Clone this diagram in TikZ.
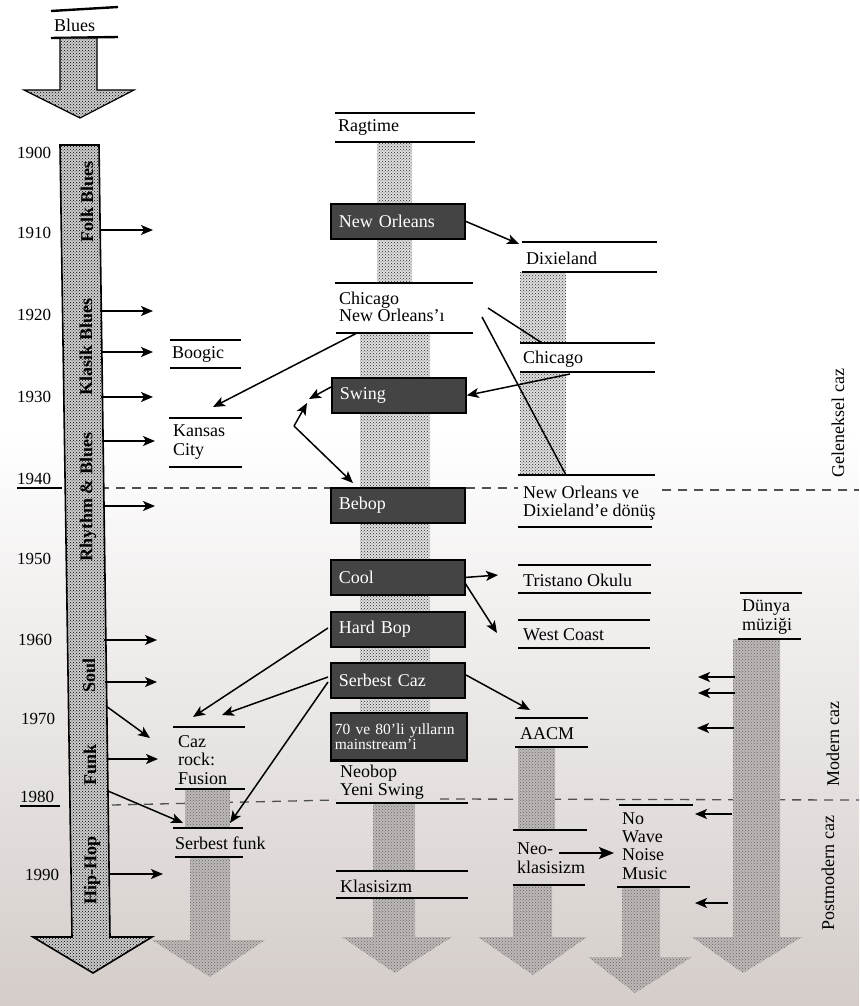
\documentclass[tikz,border=0pt]{standalone}
\usepackage{fontspec}
\setmainfont{Liberation Serif}
\usetikzlibrary{arrows.meta,patterns}
\definecolor{paper}{RGB}{212,205,202}
\definecolor{boxgray}{RGB}{68,68,68}
\definecolor{dashcol}{RGB}{80,80,80}
\definecolor{lowfill}{RGB}{190,185,183}
\begin{document}
\begin{tikzpicture}[x=1pt,y=-1pt,
  txt/.style={inner sep=0pt, anchor=west, align=left, font=\fontsize{18}{18.5}\selectfont},
  year/.style={inner sep=0pt, anchor=west, font=\fontsize{17}{17}\selectfont},
  rotb/.style={inner sep=0pt, rotate=90, font=\bfseries\fontsize{18}{18}\selectfont},
  rotr/.style={inner sep=0pt, rotate=90, font=\fontsize{18}{18}\selectfont},
  hline/.style={line width=2.4pt},
  thinline/.style={line width=1.2pt},
  sep/.style={line width=1.3pt, dashcol, dash pattern=on 9pt off 7pt},
  darkbox/.style={draw=black, line width=1.8pt, fill=boxgray, text=white, anchor=north west,
    inner xsep=8pt, inner ysep=0pt, align=left, text width=118pt, minimum height=35pt,
    font=\fontsize{18}{18}\selectfont},
  arr/.style={line width=1.5pt, -{Stealth[length=12pt,width=10pt,inset=3pt]}},
  bigarr/.style={line width=1.8pt, -{Stealth[length=15pt,width=12pt,inset=3pt]}},
  conn/.style={line width=1.5pt},
  mainbar/.style={draw=black, line width=1.6pt, preaction={fill=gray!40}, pattern=crosshatch dots, pattern color=black},
  dotbar/.style={preaction={fill=gray!25}, pattern=crosshatch dots, pattern color=black!85},
  lowbar/.style={preaction={fill=lowfill}, pattern=crosshatch dots, pattern color=black!60}
]
\useasboundingbox (0,0) rectangle (859,1006);
% background paper
\fill[white] (0,0) rectangle (859,1006);
\shade[top color=white, bottom color=paper] (0,430) rectangle (859,1006);

% ---------- separators ----------
\draw[thinline] (17,488) -- (62,488);
\draw[sep] (100,488) -- (330,488);
\draw[sep] (466,488) -- (518,488);
\draw[sep] (662,490) -- (859,490);
\draw[thinline] (20,806) -- (60,806);
\draw[sep] (112,805) -- (336,800);
\draw[sep] (440,799) -- (859,800);

% ---------- Blues ----------
\draw[hline] (51,11) -- (118,7);
\draw[hline] (51,38) -- (118,37);
\node[txt] (blues) at (54,25) {Blues};
\draw[mainbar, line width=1.2pt] (60,38) -- (97,38) -- (97,90) -- (134,90) -- (80,118) -- (24,90) -- (60,90) -- cycle;

% ---------- main timeline ----------
\draw[mainbar] (60,145) -- (99,145) -- (110,937) -- (152,937) -- (93,973) -- (33,937) -- (72,937) -- cycle;
\node[rotb] (folk) at (87,202) {Folk Blues};
\node[rotb] (klasik) at (86,347) {Klasik Blues};
\node[rotb] (rnb) at (88,497) {Rhythm \& Blues};
\node[rotb] (soul) at (89,675) {Soul};
\node[rotb] (funk) at (90,765) {Funk};
\node[rotb] (hiphop) at (92,870) {Hip-Hop};

\node[year] (y1900) at (17,153) {1900};
\node[year] (y1910) at (17,233) {1910};
\node[year] (y1920) at (17,315) {1920};
\node[year] (y1930) at (17,397) {1930};
\node[year] (y1940) at (17,479) {1940};
\node[year] (y1950) at (17,559) {1950};
\node[year] (y1960) at (18,640) {1960};
\node[year] (y1970) at (21,719) {1970};
\node[year] (y1980) at (20,797) {1980};
\node[year] (y1990) at (25,875) {1990};

% ---------- column 2 ----------
\fill[lowbar] (185,789) rectangle (230,828);
\fill[lowbar] (190,857) -- (230,857) -- (230,940) -- (265,940) -- (210,977) -- (152,940) -- (190,940) -- cycle;
\draw[hline] (170,340) -- (241,340);
\draw[hline] (170,368) -- (241,368);
\node[txt] (boogic) at (172,354) {Boogic};
\draw[hline] (169,418) -- (242,418);
\draw[hline] (169,467) -- (242,467);
\node[txt] (kansas) at (173,442) {Kansas\\City};
\draw[hline] (173,727) -- (245,727);
\draw[hline] (175,789) -- (245,789);
\node[txt] (cazrock) at (178,760) {Caz\\rock:\\Fusion};
\draw[hline] (173,828) -- (243,828);
\draw[hline] (175,857) -- (243,857);
\node[txt] (sfunk) at (175,843) {Serbest funk};

% ---------- middle column ----------
\fill[dotbar] (377,142) rectangle (412,283);
\fill[dotbar] (360,333) rectangle (430,712);
\fill[lowbar] (373,803) rectangle (415,871);
\fill[lowbar] (373,898) -- (415,898) -- (415,937) -- (452,937) -- (395,973) -- (342,937) -- (373,937) -- cycle;
\draw[hline] (335,113) -- (475,113);
\draw[hline] (335,142) -- (475,142);
\node[txt] (ragtime) at (338,127) {Ragtime};
\node[darkbox] (neworleans) at (330,203) {New Orleans};
\draw[hline] (335,283) -- (473,283);
\draw[hline] (336,333) -- (473,333);
\node[txt, font=\fontsize{18}{17.5}\selectfont] (chino) at (339,307) {Chicago\\New Orleans’ı};
\node[darkbox] (swing) at (331,377) {Swing};
\node[darkbox] (bebop) at (330,487) {Bebop};
\node[darkbox] (cool) at (330,559) {Cool};
\node[darkbox] (hardbop) at (330,611) {Hard Bop};
\node[darkbox] (serbest) at (330,662) {Serbest Caz};
\node[darkbox, minimum height=48pt, text width=128pt, inner xsep=4pt, font=\fontsize{15.5}{14.5}\selectfont] (mainstream) at (330,712) {\mbox{70 ve 80’li yılların}\\\mbox{mainstream’i}};
\draw[hline] (330,760) -- (468,760);
\node[txt] (neobop) at (340,782) {Neobop\\Yeni Swing};
\draw[hline] (336,803) -- (468,803);
\draw[hline] (336,871) -- (468,871);
\draw[hline] (336,898) -- (468,898);
\node[txt] (klasisizm) at (340,886) {Klasisizm};

% ---------- column 4 ----------
\fill[dotbar] (520,272) rectangle (566,343);
\fill[dotbar] (520,372) rectangle (566,475);
\fill[lowbar] (518,747) rectangle (555,830);
\fill[lowbar] (513,885) -- (552,885) -- (552,937) -- (587,937) -- (533,975) -- (478,937) -- (513,937) -- cycle;
\draw[hline] (522,242) -- (657,242);
\draw[hline] (522,272) -- (657,272);
\node[txt] (dixieland) at (526,258) {Dixieland};
\draw[hline] (520,343) -- (655,343);
\draw[hline] (520,372) -- (655,372);
\node[txt] (chicago) at (523,359) {Chicago};
\draw[hline] (518,475) -- (655,475);
\draw[hline] (518,527) -- (652,527);
\node[txt] (donus) at (523,503) {New Orleans ve\\Dixieland’e dönüş};
\draw[hline] (518,565) -- (651,565);
\draw[hline] (518,593) -- (651,593);
\node[txt] (tristano) at (523,580) {Tristano Okulu};
\draw[hline] (518,620) -- (650,620);
\draw[hline] (518,648) -- (650,648);
\node[txt] (westcoast) at (523,635) {West Coast};
\draw[hline] (515,718) -- (588,718);
\draw[hline] (515,747) -- (588,747);
\node[txt] (aacm) at (520,734) {AACM};
\draw[hline] (513,830) -- (587,830);
\draw[hline] (513,885) -- (585,885);
\node[txt] (neoklas) at (517,858) {Neo-\\klasisizm};

% ---------- column 5 ----------
\fill[lowbar] (622,887) -- (660,887) -- (660,957) -- (692,957) -- (635,993) -- (588,957) -- (622,957) -- cycle;
\draw[hline] (619,805) -- (693,805);
\draw[hline] (617,887) -- (690,887);
\node[txt, font=\fontsize{18}{18.3}\selectfont] (nowave) at (622,846) {No\\Wave\\Noise\\Music};

% ---------- column 6 ----------
\fill[lowbar] (733,639) -- (780,639) -- (780,937) -- (802,937) -- (743,973) -- (692,937) -- (733,937) -- cycle;
\draw[hline] (740,593) -- (802,593);
\draw[hline] (738,639) -- (801,639);
\node[txt] (dunya) at (742,617) {Dünya\\müziği};

% ---------- right labels ----------
\node[rotr] (geleneksel) at (838,423) {Geleneksel caz};
\node[rotr] (modern) at (833,744) {Modern caz};
\node[rotr] (postmodern) at (828,873) {Postmodern caz};

% ---------- timeline arrows ----------
\foreach \n/\xa/\ya/\xb/\yb in {1/100/230/153/230, 2/100/311/153/311, 3/101/352/153/352, 4/101/397/153/397,
  5/102/441/155/441, 6/103/506/155/506, 7/104/640/157/640, 8/105/682/157/682, 9/106/706/150/738,
  10/107/759/158/759, 11/108/791/183/823, 12/110/874/163/874}{
  \coordinate (ts\n) at (\xa,\ya);
  \coordinate (te\n) at (\xb,\yb);
  \draw[arr] (ts\n) -- (te\n);
}

% ---------- Dünya arrows ----------
\foreach \n/\xa/\ya/\xb in {1/735/677/698, 2/735/693/698, 3/734/728/697, 4/732/814/695, 5/728/903/695}{
  \coordinate (ds\n) at (\xa,\ya);
  \coordinate (de\n) at (\xb,\ya);
  \draw[arr] (ds\n) -- (de\n);
}

% ---------- connectors ----------
\coordinate (dixTL) at (519,244);
\draw[arr] (neworleans.east) -- (dixTL);
\coordinate (c1) at (488,308);
\coordinate (c2) at (542,343);
\draw[conn] (c1) -- (c2);
\coordinate (c3) at (482,317);
\coordinate (c4) at (566,475);
\draw[conn] (c3) -- (c4);
\coordinate (chiB) at (570,374);
\draw[arr] (chiB) -- (swing.east);
\coordinate (cnoB) at (357,333);
\coordinate (kcT) at (213,407);
\draw[arr] (cnoB) -- (kcT);
\coordinate (swW) at (331,387);
\coordinate (swT) at (309,399);
\draw[arr] (swW) -- (swT);
\coordinate (vx) at (294,426);
\coordinate (vxT) at (307,403);
\coordinate (bebT) at (353,483);
\draw[arr] (vx) -- (vxT);
\draw[arr] (vx) -- (bebT);
\coordinate (trT) at (498,575);
\draw[arr] (cool.east) -- (trT);
\coordinate (coolB) at (465,583);
\coordinate (wcT) at (497,633);
\draw[arr] (coolB) -- (wcT);
\coordinate (scE) at (466,675);
\coordinate (aacmT) at (530,710);
\draw[arr] (scE) -- (aacmT);
\coordinate (hbW) at (328,628);
\coordinate (crT1) at (193,717);
\draw[arr] (hbW) -- (crT1);
\coordinate (scW1) at (328,677);
\coordinate (crT2) at (222,715);
\draw[arr] (scW1) -- (crT2);
\coordinate (scW2) at (328,682);
\coordinate (sfT) at (230,823);
\draw[arr] (scW2) -- (sfT);
\coordinate (neoE) at (559,853);
\coordinate (nwW) at (614,853);
\draw[bigarr] (neoE) -- (nwW);
\end{tikzpicture}
\end{document}
